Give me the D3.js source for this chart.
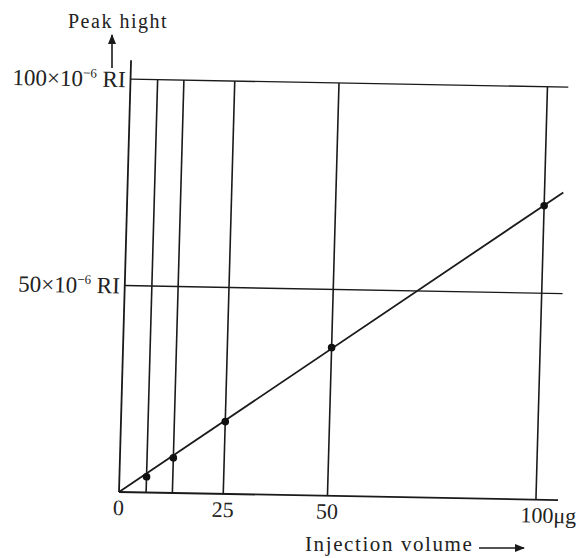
<!DOCTYPE html>
<html>
<head>
<meta charset="utf-8">
<script src="https://cdn.jsdelivr.net/npm/d3@7"></script>
<style>
  body { margin: 0; background: #fff; }
  text { font-family: "Liberation Serif", "DejaVu Serif", serif; fill: #222; }
</style>
</head>
<body>
<svg width="581" height="558"></svg>
<script>
// injection amounts (ug) and measured peak heights (x10^-6 RI)
var injection = [6.5, 12.8, 25, 50, 100];
var peak = [3.8, 8.5, 17.5, 35.9, 71.2];
// calibration line drawn through the points
var fitX = [0, 104.5];
var fitY = [0, 74.5];
var xTicks = [0, 25, 50, 100];
var xTickLabels = ["0", "25", "50", "100\u03bcg"];
var yTicks = [50, 100];
var yTickLabels = ["50", "100"];

var svg = d3.select("svg");
var ink = "#1a1a1a";

var x = d3.scaleLinear().domain([0, 100]).range([0, 417]);
var y = d3.scaleLinear().domain([0, 100]).range([0, -413]);

// scanned page is a little tilted, so the plot is too
var g = svg.append("g")
    .attr("transform", "translate(119,492) rotate(1.05) skewX(-0.55)");

// axes
g.append("line")
    .attr("x1", x(0)).attr("y1", y(0))
    .attr("x2", x(105.3)).attr("y2", y(0))
    .attr("stroke", ink).attr("stroke-width", 1.8);
g.append("line")
    .attr("x1", x(0)).attr("y1", y(0))
    .attr("x2", x(0)).attr("y2", y(104.6))
    .attr("stroke", ink).attr("stroke-width", 1.8);

// horizontal lines at 50 and 100
g.selectAll(".hline")
    .data(yTicks).enter()
    .append("line")
    .attr("class", "hline")
    .attr("x1", x(0)).attr("x2", x(105))
    .attr("y1", function (d) { return y(d); })
    .attr("y2", function (d) { return y(d); })
    .attr("stroke", ink).attr("stroke-width", 1.4);

// verticals at each injection
g.selectAll(".vline")
    .data(injection).enter()
    .append("line")
    .attr("class", "vline")
    .attr("x1", function (d) { return x(d); })
    .attr("x2", function (d) { return x(d); })
    .attr("y1", y(0)).attr("y2", y(100))
    .attr("stroke", ink).attr("stroke-width", 1.6);

// fitted line
var line = d3.line()
    .x(function (d) { return x(d[0]); })
    .y(function (d) { return y(d[1]); });
g.append("path")
    .attr("d", line(d3.zip(fitX, fitY)))
    .attr("fill", "none")
    .attr("stroke", ink).attr("stroke-width", 1.8);

g.selectAll("circle")
    .data(d3.zip(injection, peak)).enter()
    .append("circle")
    .attr("cx", function (d) { return x(d[0]); })
    .attr("cy", function (d) { return y(d[1]); })
    .attr("r", 3.8)
    .attr("fill", "#111");

// tick labels
g.selectAll(".xlab")
    .data(xTicks).enter()
    .append("text")
    .attr("class", "xlab")
    .attr("x", function (d, i) { return x(d) + (i == 3 ? -15 : 0); })
    .attr("y", y(0) + 23)
    .attr("text-anchor", function (d, i) { return i == 3 ? "start" : "middle"; })
    .attr("font-size", 22)
    .text(function (d, i) { return xTickLabels[i]; });

var yl = g.selectAll(".ylab")
    .data(yTicks).enter()
    .append("text")
    .attr("class", "ylab")
    .attr("x", -5)
    .attr("y", function (d) { return y(d) + 8; })
    .attr("text-anchor", "end")
    .attr("font-size", 23);
yl.append("tspan").text(function (d, i) { return yTickLabels[i] + "\u00d710"; });
yl.append("tspan").attr("font-size", 13).attr("dy", -9).text("\u22126");
yl.append("tspan").attr("dy", 9).text(" RI");

// axis titles with arrows
svg.append("defs").append("marker")
    .attr("id", "arr")
    .attr("viewBox", "0 0 10 10")
    .attr("refX", 9).attr("refY", 5)
    .attr("markerWidth", 10).attr("markerHeight", 10)
    .attr("markerUnits", "userSpaceOnUse")
    .attr("orient", "auto")
    .append("path")
    .attr("d", "M0,1L10,5L0,9Z")
    .attr("fill", ink);

svg.append("text")
    .attr("x", 68).attr("y", 28)
    .attr("font-size", 20)
    .attr("letter-spacing", 1.5)
    .text("Peak hight");
svg.append("line")
    .attr("x1", 112).attr("y1", 68)
    .attr("x2", 112).attr("y2", 35)
    .attr("stroke", ink).attr("stroke-width", 1.6)
    .attr("marker-end", "url(#arr)");

svg.append("text")
    .attr("x", 305).attr("y", 551)
    .attr("font-size", 21)
    .attr("letter-spacing", 1.6)
    .text("Injection volume");
svg.append("line")
    .attr("x1", 479).attr("y1", 548)
    .attr("x2", 524).attr("y2", 548)
    .attr("stroke", ink).attr("stroke-width", 1.3)
    .attr("marker-end", "url(#arr)");
</script>
</body>
</html>
